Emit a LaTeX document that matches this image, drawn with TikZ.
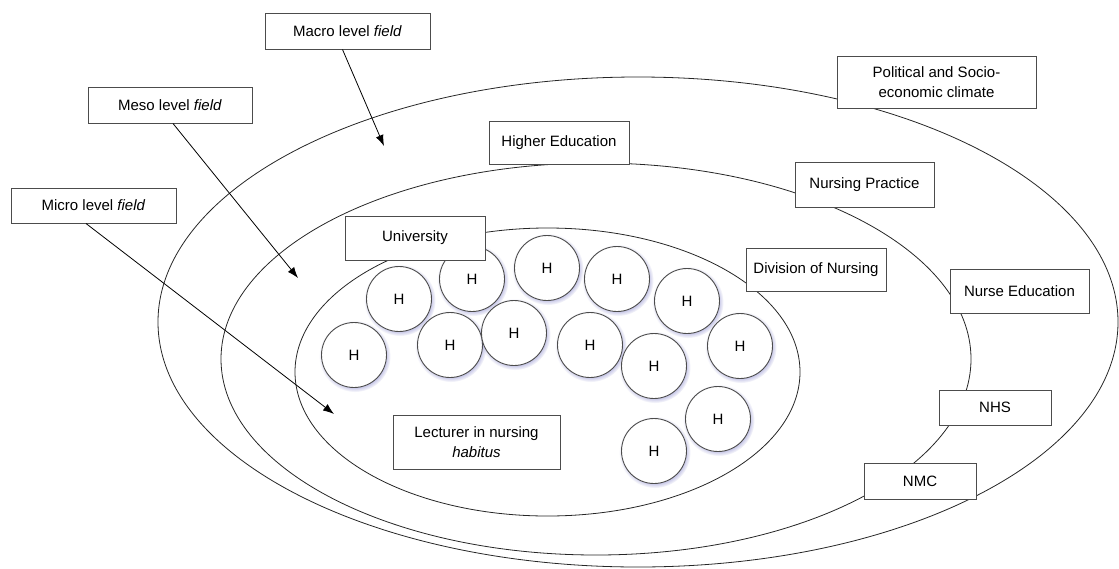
\documentclass[tikz,border=0pt]{standalone}
\usepackage{fontspec}
\setmainfont{Liberation Sans}
\usetikzlibrary{arrows.meta,shadows}
\begin{document}
\begin{tikzpicture}[x=1pt,y=-1pt,
  field/.style={draw=black!85, line width=0.8pt},
  lbl/.style={draw=black!70, fill=white, line width=1pt, inner sep=0pt, align=center,
    font=\fontsize{15}{20.5}\selectfont},
  hcirc/.style={circle, draw=black!70, fill=white, line width=0.9pt, minimum size=65pt, inner sep=0pt,
    font=\fontsize{15}{18}\selectfont,
    circular drop shadow={shadow xshift=0.8pt, shadow yshift=-1.2pt, fill=blue!40!gray, opacity=0.35}},
  arr/.style={draw=black, line width=0.8pt, -{Latex[length=11pt,width=8pt]}}]
\useasboundingbox (0,0) rectangle (1119,568);
% fields
\draw[field] (638,322) ellipse [x radius=480, y radius=245];
\draw[field] (596,359) ellipse [x radius=375, y radius=196];
\draw[field] (547.5,372) ellipse [x radius=252.5, y radius=144];
% habitus circles
\node[hcirc] (h1) at (399,299) {H};
\node[hcirc] (h2) at (472,279) {H};
\node[hcirc] (h3) at (547,268) {H};
\node[hcirc] (h4) at (617,279) {H};
\node[hcirc] (h5) at (687,301) {H};
\node[hcirc] (h6) at (354,355) {H};
\node[hcirc] (h7) at (450,345) {H};
\node[hcirc] (h8) at (514,333) {H};
\node[hcirc] (h9) at (590,345) {H};
\node[hcirc] (h10) at (654,366) {H};
\node[hcirc] (h11) at (740,346) {H};
\node[hcirc] (h12) at (718,419) {H};
\node[hcirc] (h13) at (654,451) {H};
% labels
\node[lbl, minimum width=165pt, minimum height=36pt] (macro) at (347.5,31) {Macro level \textit{field}};
\node[lbl, minimum width=164pt, minimum height=36pt] (meso) at (170,105) {Meso level \textit{field}};
\node[lbl, minimum width=165pt, minimum height=35pt] (micro) at (93.5,205.5) {Micro level \textit{field}};
\node[lbl, minimum width=140pt, minimum height=43pt] (higher) at (559,142.5) {Higher Education};
\node[lbl, minimum width=140pt, minimum height=44pt] (univ) at (415,238) {University};
\node[lbl, minimum width=199pt, minimum height=52pt] (political) at (936.5,82) {Political and Socio-\\economic climate};
\node[lbl, minimum width=139pt, minimum height=45pt] (practice) at (864.5,184.5) {Nursing Practice};
\node[lbl, minimum width=140pt, minimum height=43pt] (division) at (816,269.5) {Division of Nursing};
\node[lbl, minimum width=139pt, minimum height=44pt] (nurseed) at (1019.5,291) {Nurse Education};
\node[lbl, minimum width=112pt, minimum height=35pt] (nhs) at (995,407.5) {NHS};
\node[lbl, minimum width=112pt, minimum height=36pt] (nmc) at (920,481) {NMC};
\node[lbl, minimum width=167pt, minimum height=54pt] (lecturer) at (476.5,442) {Lecturer in nursing\\\textit{habitus}};
% arrows
\coordinate (tipmacro) at (384,146);
\coordinate (tipmeso) at (298,278);
\coordinate (tipmicro) at (334,414);
\draw[arr] ([xshift=-5pt]macro.south) -- (tipmacro);
\draw[arr] ([xshift=3pt]meso.south) -- (tipmeso);
\draw[arr] ([xshift=-7.5pt]micro.south) -- (tipmicro);
\end{tikzpicture}
\end{document}
